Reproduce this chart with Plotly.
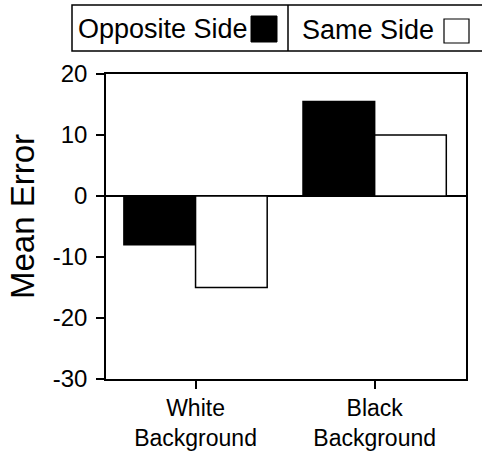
import plotly.graph_objects as go

# Mean error by background and side
categories = ["White<br>Background", "Black<br>Background"]
opposite_side = [-8, 15.5]
same_side = [-15, 10]
y_ticks = [20, 10, 0, -10, -20, -30]

FONT = "Liberation Sans, Arial, Helvetica, sans-serif"

# Plot-area geometry in pixels (used for paper-coordinate placement)
W, H = 482, 453
L, R, T, B = 106, 16, 74, 74
PW, PH = W - L - R, H - T - B


def px_x(px):
    return (px - L) / PW


def px_y(py):
    return (H - B - py) / PH


fig = go.Figure()
fig.add_trace(go.Bar(
    x=categories, y=opposite_side, name="Opposite Side",
    marker=dict(color="black", line=dict(color="black", width=1.5)),
))
fig.add_trace(go.Bar(
    x=categories, y=same_side, name="Same Side",
    marker=dict(color="white", line=dict(color="black", width=1.5)),
))

shapes = [
    # legend frame and divider
    dict(type="rect", xref="paper", yref="paper",
         x0=px_x(72), x1=px_x(490), y0=px_y(51), y1=px_y(5),
         line=dict(color="black", width=1.5), fillcolor="white"),
    dict(type="line", xref="paper", yref="paper",
         x0=px_x(288), x1=px_x(288), y0=px_y(51), y1=px_y(5),
         line=dict(color="black", width=1.5)),
    # legend swatches
    dict(type="rect", xref="paper", yref="paper",
         x0=px_x(251), x1=px_x(277), y0=px_y(42), y1=px_y(16),
         line=dict(color="black", width=1), fillcolor="black"),
    dict(type="rect", xref="paper", yref="paper",
         x0=px_x(444), x1=px_x(469), y0=px_y(43), y1=px_y(19),
         line=dict(color="black", width=1.2), fillcolor="white"),
]

annotations = [
    dict(text="Opposite Side", xref="paper", yref="paper",
         x=px_x(76), y=px_y(29), xanchor="left", yanchor="middle",
         showarrow=False, font=dict(family=FONT, size=27, color="black")),
    dict(text="Same Side", xref="paper", yref="paper",
         x=px_x(300), y=px_y(30), xanchor="left", yanchor="middle",
         showarrow=False, font=dict(family=FONT, size=27, color="black")),
    dict(text="Mean Error", xref="paper", yref="paper",
         x=px_x(22), y=px_y(217), xanchor="center", yanchor="middle",
         textangle=-90, showarrow=False,
         font=dict(family=FONT, size=33, color="black")),
]

fig.update_layout(
    width=W, height=H,
    margin=dict(l=L, r=R, t=T, b=B, pad=0, autoexpand=False),
    paper_bgcolor="white", plot_bgcolor="white",
    barmode="group", bargap=0.2, bargroupgap=0,
    showlegend=False,
    shapes=shapes, annotations=annotations,
    font=dict(family=FONT, color="black"),
)

fig.update_xaxes(
    range=[-0.5, 1.51], automargin=False,
    showline=True, linecolor="black", linewidth=1.5, mirror=True,
    ticks="outside", ticklen=8, tickwidth=1.5, tickcolor="black",
    showgrid=False, zeroline=False,
    tickfont=dict(family=FONT, size=23, color="black"),
)
fig.update_yaxes(
    range=[-30, 20], tickvals=y_ticks, ticktext=[str(v) for v in y_ticks],
    automargin=False, ticklabelstandoff=4,
    showline=True, linecolor="black", linewidth=1.5, mirror=True,
    ticks="outside", ticklen=8, tickwidth=1.5, tickcolor="black",
    showgrid=False, zeroline=True, zerolinecolor="black", zerolinewidth=1.5,
    tickfont=dict(family=FONT, size=24, color="black"),
)

fig.write_html("out.html")
